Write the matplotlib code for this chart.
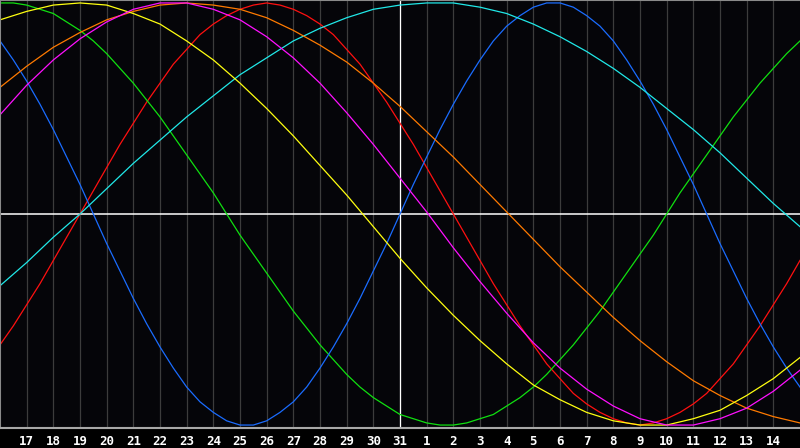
import numpy as np
import matplotlib
matplotlib.use('Agg')
import matplotlib.pyplot as plt

#-----------------------------------------------------------------------------
# data, from the day before 17 to day 15
day_labels = ['17', '18', '19', '20', '21', '22', '23', '24', '25', '26', '27',
              '28', '29', '30', '31', '1', '2', '3', '4', '5', '6', '7', '8',
              '9', '10', '11', '12', '13', '14']
days = np.arange(-1, 30)            # one value per day, 0 = day 17
half_days = np.arange(-1, 29.5, 0.5)  # two values per day for the fast cycles
today = 14                          # day 31

blue = [0.82, 0.73, 0.63, 0.52, 0.40, 0.27, 0.14, 0.00, -0.14, -0.27, -0.40,
        -0.52, -0.63, -0.73, -0.82, -0.89, -0.94, -0.98, -1.00, -1.00, -0.98,
        -0.94, -0.89, -0.82, -0.73, -0.63, -0.52, -0.40, -0.27, -0.14, 0.00,
        0.14, 0.27, 0.40, 0.52, 0.63, 0.73, 0.82, 0.89, 0.94, 0.98, 1.00, 1.00,
        0.98, 0.94, 0.89, 0.82, 0.73, 0.63, 0.52, 0.40, 0.27, 0.14, 0.00,
        -0.14, -0.27, -0.40, -0.52, -0.63, -0.73, -0.82]
red = [-0.62, -0.53, -0.43, -0.33, -0.22, -0.11, 0.00, 0.11, 0.22, 0.33, 0.43,
       0.53, 0.62, 0.71, 0.78, 0.85, 0.90, 0.94, 0.97, 0.99, 1.00, 0.99, 0.97,
       0.94, 0.90, 0.85, 0.78, 0.71, 0.62, 0.53, 0.43, 0.33, 0.22, 0.11, 0.00,
       -0.11, -0.22, -0.33, -0.43, -0.53, -0.62, -0.71, -0.78, -0.85, -0.90,
       -0.94, -0.97, -0.99, -1.00, -0.99, -0.97, -0.94, -0.90, -0.85, -0.78,
       -0.71, -0.62, -0.53, -0.43, -0.33, -0.22]
green = [1.00, 1.00, 0.99, 0.97, 0.95, 0.91, 0.87, 0.82, 0.76, 0.69, 0.62, 0.54,
         0.46, 0.37, 0.28, 0.19, 0.10, 0.00, -0.10, -0.19, -0.28, -0.37, -0.46,
         -0.54, -0.62, -0.69, -0.76, -0.82, -0.87, -0.91, -0.95, -0.97, -0.99,
         -1.00, -1.00, -0.99, -0.97, -0.95, -0.91, -0.87, -0.82, -0.76, -0.69,
         -0.62, -0.54, -0.46, -0.37, -0.28, -0.19, -0.10, 0.00, 0.10, 0.19,
         0.28, 0.37, 0.46, 0.54, 0.62, 0.69, 0.76, 0.82]
cyan = [-0.34, -0.23, -0.11, 0.00, 0.12, 0.24, 0.35, 0.46, 0.56, 0.66, 0.74,
        0.82, 0.88, 0.93, 0.97, 0.99, 1.00, 1.00, 0.98, 0.95, 0.90, 0.84, 0.77,
        0.69, 0.60, 0.50, 0.40, 0.29, 0.17, 0.05, -0.06]
orange = [0.60, 0.70, 0.79, 0.86, 0.92, 0.96, 0.99, 1.00, 0.99, 0.97, 0.93,
          0.87, 0.80, 0.72, 0.62, 0.51, 0.39, 0.27, 0.14, 0.01, -0.12, -0.25,
          -0.37, -0.49, -0.60, -0.70, -0.79, -0.86, -0.92, -0.96, -0.99]
yellow = [0.92, 0.96, 0.99, 1.00, 0.99, 0.95, 0.90, 0.82, 0.73, 0.62, 0.50,
          0.37, 0.23, 0.09, -0.06, -0.21, -0.35, -0.48, -0.60, -0.71, -0.81,
          -0.88, -0.94, -0.98, -1.00, -1.00, -0.97, -0.93, -0.86, -0.78, -0.68]
magenta = [0.47, 0.61, 0.73, 0.83, 0.91, 0.97, 1.00, 1.00, 0.97, 0.92, 0.84,
           0.74, 0.62, 0.48, 0.33, 0.17, 0.01, -0.16, -0.32, -0.47, -0.61,
           -0.73, -0.83, -0.91, -0.97, -1.00, -1.00, -0.97, -0.92, -0.84, -0.74]

#-----------------------------------------------------------------------------
'''Create figure'''
bg = '#050509'
fig = plt.figure(figsize=(8, 4.48), dpi=100, facecolor='#000000')
ax = fig.add_axes([0, 20/448, 1, 428/448])
ax.set_facecolor(bg)

# day grid
for d in range(0, 29):
    ax.axvline(d, color='#3c3c3c', lw=0.9, zorder=1)
ax.axvline(today, color='white', lw=0.9, zorder=1.5)
ax.axhline(0, color='white', lw=1.1, zorder=1.5)

# curves
ax.plot(half_days, red, color='#ff1010', lw=0.9, zorder=2)
ax.plot(half_days, green, color='#10e010', lw=0.9, zorder=2)
ax.plot(half_days, blue, color='#1a6cff', lw=0.9, zorder=2)
ax.plot(days, cyan, color='#20e8e8', lw=0.9, zorder=2)
ax.plot(days, orange, color='#ff7a00', lw=0.9, zorder=2)
ax.plot(days, yellow, color='#ffff10', lw=0.9, zorder=2)
ax.plot(days, magenta, color='#ff10ff', lw=0.9, zorder=2)

ax.set_xlim(-1, 29)
ax.set_ylim(-1.014, 1.014)
ax.set_yticks([])
ax.set_xticks(range(len(day_labels)))
ax.set_xticklabels(day_labels, color='white', fontsize=9, fontweight='bold',
                   family='DejaVu Sans Mono')
ax.tick_params(axis='x', length=0, pad=5)

for s in ['left', 'top']:
    ax.spines[s].set_color('#8a8a8a')
    ax.spines[s].set_linewidth(1.5)
ax.spines['bottom'].set_color('#a8a8a8')
ax.spines['bottom'].set_linewidth(1.5)
ax.spines['right'].set_visible(False)

fig.savefig('out.png', dpi=100, facecolor=fig.get_facecolor())
